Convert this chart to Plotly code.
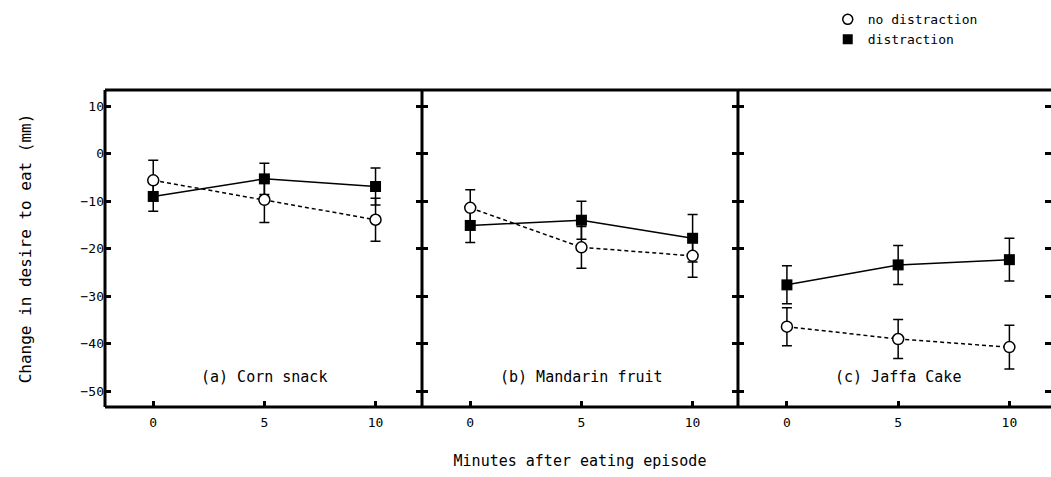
import plotly.graph_objects as go

# Minutes after the eating episode
minutes = [0, 5, 10]

panels = ["(a) Corn snack", "(b) Mandarin fruit", "(c) Jaffa Cake"]

# Change in desire to eat (mm): means and SEM per food
no_distraction_mean = [
    [-5.6, -9.7, -13.9],
    [-11.4, -19.7, -21.5],
    [-36.4, -39.0, -40.7],
]
no_distraction_err = [
    [4.2, 4.8, 4.5],
    [3.8, 4.4, 4.5],
    [4.0, 4.1, 4.6],
]
distraction_mean = [
    [-9.0, -5.3, -6.9],
    [-15.1, -14.0, -17.8],
    [-27.6, -23.4, -22.3],
]
distraction_err = [
    [3.1, 3.3, 3.9],
    [3.6, 4.0, 5.0],
    [4.0, 4.1, 4.5],
]

y_ticks = [-50, -40, -30, -20, -10, 0, 10]

FONT = "DejaVu Sans Mono"
W, H = 1051, 477
ML, MR, MT, MB = 105, 0, 90, 70

# panel split positions (paper fraction of plot area)
splits = [0.0, 0.3351, 0.6691, 1.0]
x_ranges = [[-2.17, 12.09], [-2.17, 12.04], [-2.2, 11.87]]
y_range = [-53.3, 13.4]

fig = go.Figure()

for i in range(3):
    xa = "x" if i == 0 else f"x{i + 1}"
    ya = "y" if i == 0 else f"y{i + 1}"
    fig.add_trace(go.Scatter(
        x=minutes, y=distraction_mean[i],
        error_y=dict(type="data", array=distraction_err[i], color="black",
                     thickness=1.5, width=5),
        mode="lines+markers",
        line=dict(color="black", width=1.5),
        marker=dict(symbol="square", size=11, color="black"),
        xaxis=xa, yaxis=ya, showlegend=False, name="distraction",
    ))
    fig.add_trace(go.Scatter(
        x=minutes, y=no_distraction_mean[i],
        error_y=dict(type="data", array=no_distraction_err[i], color="black",
                     thickness=1.5, width=5),
        mode="lines+markers",
        line=dict(color="black", width=1.5, dash="4px,3px"),
        marker=dict(symbol="circle", size=11, color="white",
                    line=dict(color="black", width=1.5)),
        xaxis=xa, yaxis=ya, showlegend=False, name="no distraction",
    ))

# legend entries (markers only)
fig.add_trace(go.Scatter(
    x=[None], y=[None], mode="markers", name="no distraction",
    marker=dict(symbol="circle", size=10, color="white",
                line=dict(color="black", width=1.5)),
))
fig.add_trace(go.Scatter(
    x=[None], y=[None], mode="markers", name="distraction",
    marker=dict(symbol="square", size=10, color="black"),
))

axis_common = dict(showgrid=False, zeroline=False, showline=False,
                   ticks="inside", ticklen=6, tickwidth=2.5, tickcolor="black",
                   tickfont=dict(family=FONT, size=13, color="black"))

layout = dict(
    width=W, height=H,
    margin=dict(l=ML, r=MR, t=MT, b=MB),
    plot_bgcolor="white", paper_bgcolor="white",
    font=dict(family=FONT, color="black"),
    legend=dict(x=0.764, y=1.27, xanchor="left", yanchor="top",
                font=dict(family=FONT, size=13), itemwidth=30,
                tracegroupgap=0, bgcolor="rgba(0,0,0,0)"),
)

for i in range(3):
    sx = "" if i == 0 else str(i + 1)
    layout[f"xaxis{sx}"] = dict(
        axis_common, domain=[splits[i], splits[i + 1]], range=x_ranges[i],
        tickvals=minutes, anchor=f"y{sx}", ticklabelstandoff=6,
    )
    layout[f"yaxis{sx}"] = dict(
        axis_common, range=y_range, tickvals=y_ticks, anchor=f"x{sx}",
        mirror="ticks", showticklabels=(i == 0),
        **({} if i == 0 else {"matches": "y"}),
    )

layout["yaxis"]["title"] = dict(text="Change in desire to eat (mm)",
                                font=dict(family=FONT, size=16), standoff=44)
layout["xaxis2"]["title"] = dict(text="Minutes after eating episode",
                                 font=dict(family=FONT, size=15), standoff=26)

# frame (open on the right, where the figure is cut) and panel dividers
frame = dict(color="black", width=3)
shapes = [
    dict(type="line", xref="paper", yref="paper", x0=0, x1=1, y0=1, y1=1, line=frame),
    dict(type="line", xref="paper", yref="paper", x0=0, x1=1, y0=0, y1=0, line=frame),
    dict(type="line", xref="paper", yref="paper", x0=0, x1=0, y0=0, y1=1, line=frame),
]
for s in splits[1:-1]:
    shapes.append(dict(type="line", xref="paper", yref="paper", x0=s, x1=s,
                       y0=0, y1=1, line=frame))
layout["shapes"] = shapes

annotations = []
for i, label in enumerate(panels):
    sx = "" if i == 0 else str(i + 1)
    annotations.append(dict(text=label, x=5, y=-46.9, xref=f"x{sx}", yref=f"y{sx}",
                            showarrow=False, font=dict(family=FONT, size=15)))
layout["annotations"] = annotations

fig.update_layout(**layout)
fig.write_html("out.html")
